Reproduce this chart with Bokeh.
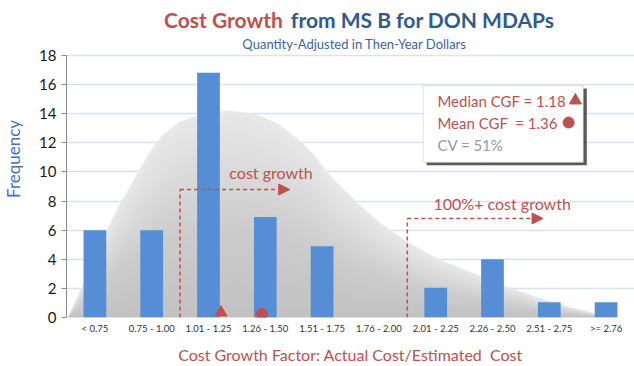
from bokeh.plotting import figure
from bokeh.models import Range1d, FixedTicker, Label, Arrow, NormalHead, BoxAnnotation
from bokeh.embed import file_html
from bokeh.resources import INLINE

# ---------------- data ----------------
categories = ["< 0.75", "0.75 - 1.00", "1.01 - 1.25", "1.26 - 1.50", "1.51 - 1.75",
              "1.76 - 2.00", "2.01 - 2.25", "2.26 - 2.50", "2.51 - 2.75", ">= 2.76"]
frequency = [6, 6, 16.8, 6.9, 4.9, 0, 2.05, 4, 1.05, 1.05]

# fitted distribution outline (x in category positions, y in frequency)
curve_x = [-0.48, -0.22, 0.01, 0.22, 0.42, 0.66, 0.89, 1.18, 1.48, 1.89, 2.35, 2.82, 3.23,
           3.64, 3.87, 4.17, 4.64, 5.04, 5.51, 6.04, 6.62, 7.21, 7.79, 8.38, 8.85, 9.2, 9.5]
curve_y = [0, 2.2, 4.26, 6.09, 7.69, 9.29, 10.9, 12.5, 13.41, 13.99, 14.22, 13.99, 13.3,
           12.04, 11.13, 9.62, 7.81, 6.44, 5.17, 4.03, 3.11, 2.2, 1.39, 0.71, 0.25, 0.02, 0]

median_cgf = 1.18
mean_cgf = 1.36
cv_pct = 51
y_ticks = [0, 2, 4, 6, 8, 10, 12, 14, 16, 18]

RED = "#c0504d"
BLUE_T = "#2e5a8e"
FONT = "Lato"
NB = "\u00a0"


def cgf_pos(v):
    # position of a CGF value on the category axis (bins of 0.25 centred at 0.875, 1.13, ...)
    return 1 + (v - 0.875) / 0.25


p = figure(width=634, height=366, output_backend="svg", toolbar_location=None,
           x_range=Range1d(-0.5, 9.5), y_range=Range1d(0, 21.77),
           min_border_left=64, min_border_right=0, min_border_top=0, min_border_bottom=49)
p.outline_line_color = None
p.background_fill_color = "white"

# grid
p.xgrid.visible = False
p.ygrid.ticker = FixedTicker(ticks=y_ticks)
p.ygrid.grid_line_color = "#d9e2ef"
p.ygrid.grid_line_width = 1.3

# distribution area (lighter at top, darker toward the base)
px = curve_x + [curve_x[0]]
p.patch(px, curve_y + [curve_y[0]], fill_color="#e8e8e8", line_color=None)
n_layers = 24
for k in range(n_layers):
    f = 0.97 - k * 0.04
    p.patch(px, [v * f for v in curve_y] + [0], fill_color="#999999", fill_alpha=0.018,
            line_color=None)

# bars
xs = list(range(len(categories)))
p.vbar(x=xs, top=frequency, width=0.4, bottom=0, fill_color="#558ed5", line_color=None)

# median / mean markers at base
p.scatter([cgf_pos(median_cgf)], [0.34], marker="triangle", size=12, color=RED)
p.scatter([cgf_pos(mean_cgf)], [0.25], marker="circle", size=11, color=RED)

# axes
xa = p.xaxis[0]
xa.ticker = FixedTicker(ticks=xs)
xa.major_label_overrides = {i: c for i, c in enumerate(categories)}
xa.axis_line_color = None
xa.major_tick_line_color = None
xa.major_tick_out = 0
xa.major_tick_in = 0
xa.minor_tick_line_color = None
xa.major_label_text_font = FONT
xa.major_label_text_font_size = "9.5px"
xa.major_label_text_color = "#333333"
xa.major_label_standoff = 5
xa.axis_label = "Cost Growth Factor: Actual Cost/Estimated" + NB + " Cost"
xa.axis_label_text_font = FONT
xa.axis_label_text_font_size = "16px"
xa.axis_label_text_font_style = "normal"
xa.axis_label_text_color = RED
xa.axis_label_standoff = 8

ya = p.yaxis[0]
ya.ticker = FixedTicker(ticks=y_ticks)
ya.bounds = (0, 18)
ya.axis_line_color = "#8a8a8a"
ya.major_tick_line_color = "#8a8a8a"
ya.major_tick_out = 5
ya.major_tick_in = 0
ya.minor_tick_line_color = None
ya.major_label_text_font = FONT
ya.major_label_text_font_size = "15px"
ya.major_label_text_color = "#1a1a1a"
ya.major_label_standoff = 5
ya.axis_label = "Frequency"
ya.axis_label_text_font = FONT
ya.axis_label_text_font_size = "17px"
ya.axis_label_text_font_style = "normal"
ya.axis_label_text_color = "#4472c4"
ya.axis_label_standoff = 12

# cost growth arrows
p.segment(x0=[1.5, 5.5], y0=[0, 0], x1=[1.5, 5.5], y1=[8.79, 6.8],
          line_color=RED, line_width=1.5, line_dash="4 3")
for x0, x1, y in [(1.5, 3.43, 8.79), (5.5, 7.89, 6.8)]:
    p.add_layout(Arrow(x_start=x0, y_start=y, x_end=x1, y_end=y, line_color=RED,
                       line_width=1.5, line_dash="4 3",
                       end=NormalHead(size=11, fill_color=RED, line_color=RED)))
p.add_layout(Label(x=3.1, y=9.96, text="cost growth", text_align="center", text_baseline="middle",
                   text_font=FONT, text_font_size="16px", text_color=RED))
p.add_layout(Label(x=7.17, y=7.83, text="100%+ cost growth", text_align="center",
                   text_baseline="middle", text_font=FONT, text_font_size="16px", text_color=RED))

# stats box
p.add_layout(BoxAnnotation(left=5.78 + 0.06, right=8.6 + 0.06, top=15.93 - 0.2, bottom=10.65 - 0.2,
                           fill_color="#222222", fill_alpha=0.75, line_color=None))
p.add_layout(BoxAnnotation(left=5.78, right=8.6, top=15.93, bottom=10.65,
                           fill_color="white", fill_alpha=1, line_color="#a6a6a6", line_width=1.2))
p.add_layout(Label(x=6.03, y=14.9, text=f"Median CGF = {median_cgf:.2f}", text_baseline="middle",
                   text_font=FONT, text_font_size="15px", text_color=RED))
p.add_layout(Label(x=6.03, y=13.39, text=f"Mean CGF{NB} = {mean_cgf:.2f}", text_baseline="middle",
                   text_font=FONT, text_font_size="15px", text_color=RED))
p.add_layout(Label(x=6.03, y=11.88, text=f"CV = {cv_pct}%", text_baseline="middle",
                   text_font=FONT, text_font_size="15px", text_color="#9a9a9a"))
p.scatter([8.46], [14.9], marker="triangle", size=12, color=RED, level="overlay")
p.scatter([8.34], [13.39], marker="circle", size=11, color=RED, level="overlay")

# titles
p.add_layout(Label(x=3.31, y=20.47, text="Cost Growth", text_align="right", text_baseline="middle",
                   text_font=FONT, text_font_style="bold", text_font_size="21px", text_color=RED))
p.add_layout(Label(x=3.45, y=20.47, text="from MS B for DON MDAPs", text_align="left",
                   text_baseline="middle", text_font=FONT, text_font_style="bold",
                   text_font_size="21px", text_color=BLUE_T))
p.add_layout(Label(x=4.57, y=18.75, text="Quantity-Adjusted in Then-Year Dollars", text_align="center",
                   text_baseline="middle", text_font=FONT, text_font_size="13px", text_color="#3a65a5"))

open("out.html", "w").write(file_html(p, INLINE))
